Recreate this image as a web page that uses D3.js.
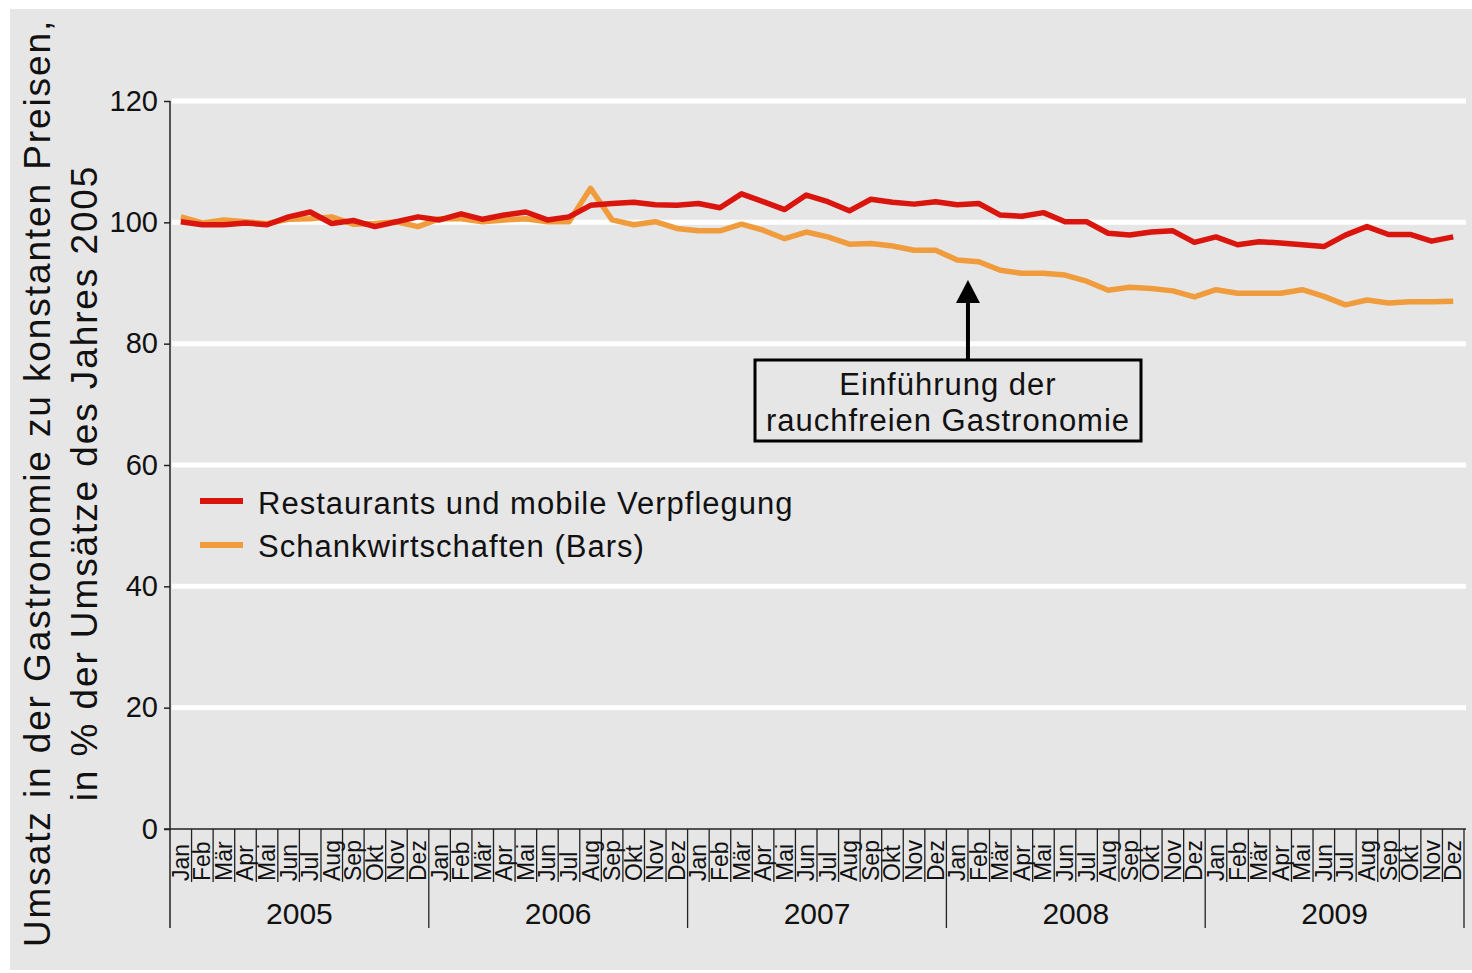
<!DOCTYPE html>
<html>
<head>
<meta charset="utf-8">
<script src="https://cdn.jsdelivr.net/npm/d3@7"></script>
<style>
  body { margin: 0; background: #fff; }
  svg { display: block; }
  text { font-family: "Liberation Sans", Arial, sans-serif; fill: #111; }
</style>
</head>
<body>
<svg id="chart" width="1472" height="973"></svg>
<script>
const years = ["2005", "2006", "2007", "2008", "2009"];
const months = ["Jan", "Feb", "Mär", "Apr", "Mai", "Jun", "Jul", "Aug", "Sep", "Okt", "Nov", "Dez"];
const yTicks = [0, 20, 40, 60, 80, 100, 120];

// index, 2005 = 100
const restaurants = [
  100.1, 99.6, 99.6, 99.9, 99.6, 100.9, 101.7, 99.8, 100.3, 99.3, 100.1, 100.9,
  100.4, 101.4, 100.5, 101.2, 101.7, 100.4, 100.9, 102.8, 103.1, 103.3, 102.9, 102.8,
  103.1, 102.4, 104.7, 103.4, 102.1, 104.5, 103.4, 101.9, 103.8, 103.3, 103.0, 103.4,
  102.9, 103.1, 101.2, 101.0, 101.6, 100.1, 100.1, 98.2, 97.9, 98.4, 98.6, 96.7,
  97.6, 96.3, 96.8, 96.6, 96.3, 96.0, 97.9, 99.3, 98.0, 98.0, 96.9, 97.6
];
const bars = [
  100.9, 99.9, 100.4, 100.1, 99.8, 100.5, 100.6, 100.9, 99.7, 99.8, 100.1, 99.3,
  100.6, 100.6, 100.1, 100.4, 100.6, 100.1, 100.1, 105.6, 100.4, 99.6, 100.1, 99.0,
  98.6, 98.6, 99.7, 98.7, 97.3, 98.4, 97.6, 96.4, 96.5, 96.1, 95.4, 95.4,
  93.8, 93.5, 92.1, 91.6, 91.6, 91.3, 90.3, 88.8, 89.3, 89.1, 88.7, 87.7,
  88.9, 88.3, 88.3, 88.3, 88.9, 87.8, 86.4, 87.2, 86.7, 86.9, 86.9, 87.0
];
const series = [
  { name: "Restaurants und mobile Verpflegung", values: restaurants, color: "#d9150e" },
  { name: "Schankwirtschaften (Bars)", values: bars, color: "#f19c3c" }
];
const annotation = ["Einführung der", "rauchfreien Gastronomie"];
const annotationIndex = 37; // Feb 2008

const svg = d3.select("#chart");
const W = 1472, H = 973;
const mLeft = 170, mRight = 1464, mTop = 101, mBottom = 829;

svg.append("rect")
  .attr("x", 10).attr("y", 9)
  .attr("width", W - 10).attr("height", 961)
  .attr("fill", "#e6e6e6");

const slots = years.flatMap((yr) => months.map((m) => ({ yr, m })));
const x = d3.scaleBand().domain(d3.range(slots.length)).range([mLeft, mRight]).padding(0);
const y = d3.scaleLinear().domain([0, 120]).range([mBottom, mTop]);
const xc = (i) => x(i) + x.bandwidth() / 2;

// grid
svg.append("g")
  .selectAll("line")
  .data(yTicks.filter((d) => d > 0))
  .join("line")
  .attr("x1", mLeft + 2).attr("x2", mRight + 2)
  .attr("y1", (d) => y(d)).attr("y2", (d) => y(d))
  .attr("stroke", "#fff").attr("stroke-width", 5);

// y axis
const yAxis = svg.append("g")
  .attr("transform", `translate(${mLeft},0)`)
  .call(d3.axisLeft(y).tickValues(yTicks).tickSize(6).tickPadding(6));
yAxis.select(".domain").remove();
yAxis.selectAll("line").attr("stroke", "#222").attr("stroke-width", 1.5);
yAxis.selectAll("text")
  .attr("font-size", 29)
  .attr("font-family", "Liberation Sans, Arial, sans-serif")
  .attr("fill", "#111");
svg.append("line")
  .attr("x1", mLeft).attr("x2", mLeft)
  .attr("y1", mTop).attr("y2", 928)
  .attr("stroke", "#222").attr("stroke-width", 1.5);

// x axis: baseline, month dividers, year dividers
svg.append("line")
  .attr("x1", mLeft - 6).attr("x2", mRight + 2)
  .attr("y1", mBottom).attr("y2", mBottom)
  .attr("stroke", "#222").attr("stroke-width", 1.5);

svg.append("g")
  .selectAll("line")
  .data(d3.range(1, slots.length + 1))
  .join("line")
  .attr("x1", (i) => x(i - 1) + x.bandwidth()).attr("x2", (i) => x(i - 1) + x.bandwidth())
  .attr("y1", mBottom)
  .attr("y2", (i) => (i % 12 === 0 ? 928 : 882))
  .attr("stroke", "#222").attr("stroke-width", 1.3);

svg.append("g")
  .selectAll("text")
  .data(slots)
  .join("text")
  .attr("transform", (d, i) => `translate(${xc(i) + 8},881) rotate(-90)`)
  .attr("font-size", 23)
  .attr("font-family", "Liberation Sans Narrow, Liberation Sans, Arial, sans-serif")
  .text((d) => d.m);

svg.append("g")
  .selectAll("text")
  .data(years)
  .join("text")
  .attr("x", (d, i) => (x(i * 12) + x(i * 12 + 11) + x.bandwidth()) / 2)
  .attr("y", 924)
  .attr("text-anchor", "middle")
  .attr("font-size", 30)
  .text((d) => d);

// lines
const line = d3.line()
  .x((d, i) => xc(i))
  .y((d) => y(d));

svg.append("g")
  .selectAll("path")
  .data(series.slice().reverse())
  .join("path")
  .attr("d", (d) => line(d.values))
  .attr("fill", "none")
  .attr("stroke", (d) => d.color)
  .attr("stroke-width", 5.5)
  .attr("stroke-linejoin", "round");

// legend
const legend = svg.append("g").attr("transform", "translate(200,501)");
legend.selectAll("line")
  .data(series)
  .join("line")
  .attr("x1", 0).attr("x2", 43)
  .attr("y1", (d, i) => i * 44).attr("y2", (d, i) => i * 44)
  .attr("stroke", (d) => d.color).attr("stroke-width", 6);
legend.selectAll("text")
  .data(series)
  .join("text")
  .attr("x", 58)
  .attr("y", (d, i) => i * 43 + 13)
  .attr("font-size", 31)
  .attr("letter-spacing", 1)
  .text((d) => d.name);

// annotation
const ax = x(annotationIndex);
const ann = svg.append("g");
ann.append("line")
  .attr("x1", ax).attr("x2", ax)
  .attr("y1", 359).attr("y2", 300)
  .attr("stroke", "#000").attr("stroke-width", 4);
ann.append("path")
  .attr("d", `M${ax},280 L${ax - 12},303 L${ax + 12},303 Z`)
  .attr("fill", "#000");
ann.append("rect")
  .attr("x", 755).attr("y", 360)
  .attr("width", 386).attr("height", 81)
  .attr("fill", "none").attr("stroke", "#000").attr("stroke-width", 3);
ann.selectAll("text")
  .data(annotation)
  .join("text")
  .attr("x", 948)
  .attr("y", (d, i) => 395 + i * 36)
  .attr("text-anchor", "middle")
  .attr("font-size", 31)
  .attr("letter-spacing", 1)
  .text((d) => d);

// y title
const title = svg.append("g").attr("transform", "translate(0,483)");
title.append("text")
  .attr("transform", "translate(50,0) rotate(-90)")
  .attr("text-anchor", "middle")
  .attr("font-size", 37)
  .attr("letter-spacing", 1.9)
  .text("Umsatz in der Gastronomie zu konstanten Preisen,");
title.append("text")
  .attr("transform", "translate(97,0) rotate(-90)")
  .attr("text-anchor", "middle")
  .attr("font-size", 37)
  .attr("letter-spacing", 1.9)
  .text("in % der Umsätze des Jahres 2005");
</script>
</body>
</html>
